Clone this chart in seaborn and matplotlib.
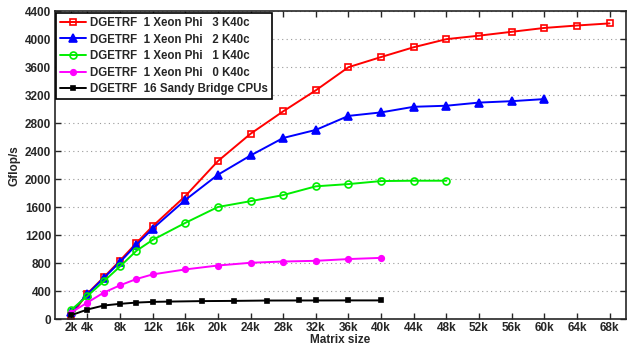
import pandas as pd
import matplotlib
matplotlib.use("Agg")
import matplotlib.pyplot as plt
import seaborn as sns

# Matrix sizes (in k) and Gflop/s per configuration
x_3k40 = [2, 4, 6, 8, 10, 12, 16, 20, 24, 28, 32, 36, 40, 44, 48, 52, 56, 60, 64, 68]
y_3k40 = [55, 370, 600, 840, 1090, 1330, 1760, 2260, 2650, 2970, 3270, 3600, 3745, 3885, 4000, 4050, 4105, 4160, 4195, 4225]

x_2k40 = [2, 4, 6, 8, 10, 12, 16, 20, 24, 28, 32, 36, 40, 44, 48, 52, 56, 60]
y_2k40 = [100, 360, 590, 820, 1065, 1295, 1705, 2065, 2340, 2590, 2705, 2905, 2955, 3035, 3050, 3095, 3115, 3145]

x_1k40 = [2, 4, 6, 8, 10, 12, 16, 20, 24, 28, 32, 36, 40, 44, 48]
y_1k40 = [135, 335, 543, 756, 979, 1135, 1378, 1605, 1688, 1775, 1900, 1932, 1975, 1980, 1980]

x_0k40 = [2, 4, 6, 8, 10, 12, 16, 20, 24, 28, 32, 36, 40]
y_0k40 = [99, 241, 383, 487, 577, 643, 714, 770, 809, 827, 837, 862, 879]

x_cpu = [2, 4, 6, 8, 10, 12, 14, 18, 22, 26, 30, 32, 36, 40]
y_cpu = [60, 142, 199, 223, 241, 251, 255, 262, 265, 270, 271, 271, 272, 272]

labels = ["DGETRF  1 Xeon Phi   3 K40c",
          "DGETRF  1 Xeon Phi   2 K40c",
          "DGETRF  1 Xeon Phi   1 K40c",
          "DGETRF  1 Xeon Phi   0 K40c",
          "DGETRF  16 Sandy Bridge CPUs"]

xticks = [2, 4, 8, 12, 16, 20, 24, 28, 32, 36, 40, 44, 48, 52, 56, 60, 64, 68]

sns.set_style("ticks")
plt.rcParams['font.family'] = ['Liberation Sans', 'DejaVu Sans']
plt.rcParams['font.weight'] = 'bold'

fig, ax = plt.subplots(figsize=(6.29, 3.48), dpi=100)
fig.subplots_adjust(left=0.087, right=0.995, bottom=0.082, top=0.968)

series = [
    (x_3k40, y_3k40, '#ff0000', 's', 'none', 4.5),
    (x_2k40, y_2k40, '#0000ff', '^', '#0000ff', 6),
    (x_1k40, y_1k40, '#00ee00', 'o', 'none', 5),
    (x_0k40, y_0k40, '#ff00ff', 'o', '#ff00ff', 4),
    (x_cpu, y_cpu, '#000000', 's', '#000000', 2.5),
]
for (xs, ys, c, m, mfc, ms), lab in zip(series, labels):
    sns.lineplot(x=[v * 1000 for v in xs], y=ys, color=c, marker=m,
                 markerfacecolor=mfc, markeredgecolor=c, markersize=ms,
                 markeredgewidth=1.2, linewidth=1.4, label=lab, ax=ax)

ax.set_xlim(0, 70000)
ax.set_ylim(0, 4400)
ax.set_xticks([v * 1000 for v in xticks])
ax.set_xticklabels([f"{v}k" for v in xticks])
ax.set_yticks(range(0, 4401, 400))
ax.tick_params(direction='in', top=True, right=True, labelsize=8.5, length=4, width=1, pad=2.5)
ax.tick_params(axis='x', pad=2)
for s in ax.spines.values():
    s.set_linewidth(1.2)
ax.yaxis.grid(True, linestyle=(0, (1, 3)), color='#999999', linewidth=0.8)

ax.set_xlabel("Matrix size", fontsize=8.5, fontweight='bold', labelpad=0)
ax.set_ylabel("Gflop/s", fontsize=8.5, fontweight='bold', labelpad=3)

leg = ax.legend(loc='upper left', fontsize=8.3, frameon=True, fancybox=False,
                edgecolor='black', framealpha=1, handlelength=2.2,
                borderaxespad=0.15, borderpad=0.35, labelspacing=0.4,
                handletextpad=0.35)
leg.get_frame().set_linewidth(1.2)
for t in leg.get_texts():
    t.set_fontweight('bold')

fig.savefig("out.png", dpi=100)
